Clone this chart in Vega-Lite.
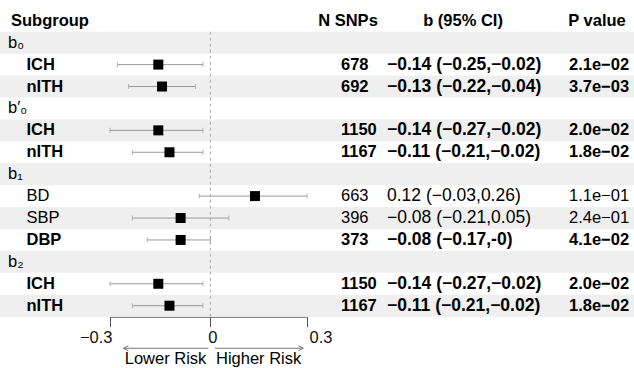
{
  "$schema": "https://vega.github.io/schema/vega-lite/v6.json",
  "width": 634,
  "height": 350.7,
  "padding": {"left": 0, "top": 9.8, "right": 0, "bottom": 8},
  "autosize": {"type": "none"},
  "config": {"view": {"stroke": null}, "font": "Liberation Sans", "text": {"font": "Liberation Sans", "fontSize": 16.5, "baseline": "middle", "color": "#000000"}},
  "datasets": {
    "rows": [
      {"row": 0, "kind": "header", "label": "Subgroup", "n": "N SNPs", "b": "b (95% CI)", "p": "P value", "bold": true},
      {"row": 1, "kind": "group", "label": "b₀", "bold": false},
      {"row": 2, "kind": "item", "label": "ICH", "n": 678, "b": "−0.14 (−0.25,−0.02)", "p": "2.1e−02", "est": -0.14, "lo": -0.25, "hi": -0.02, "bold": true},
      {"row": 3, "kind": "item", "label": "nITH", "n": 692, "b": "−0.13 (−0.22,−0.04)", "p": "3.7e−03", "est": -0.13, "lo": -0.22, "hi": -0.04, "bold": true},
      {"row": 4, "kind": "group", "label": "b′₀", "bold": false},
      {"row": 5, "kind": "item", "label": "ICH", "n": 1150, "b": "−0.14 (−0.27,−0.02)", "p": "2.0e−02", "est": -0.14, "lo": -0.27, "hi": -0.02, "bold": true},
      {"row": 6, "kind": "item", "label": "nITH", "n": 1167, "b": "−0.11 (−0.21,−0.02)", "p": "1.8e−02", "est": -0.11, "lo": -0.21, "hi": -0.02, "bold": true},
      {"row": 7, "kind": "group", "label": "b₁", "bold": false},
      {"row": 8, "kind": "item", "label": "BD", "n": 663, "b": "0.12 (−0.03,0.26)", "p": "1.1e−01", "est": 0.12, "lo": -0.03, "hi": 0.26, "bold": false},
      {"row": 9, "kind": "item", "label": "SBP", "n": 396, "b": "−0.08 (−0.21,0.05)", "p": "2.4e−01", "est": -0.08, "lo": -0.21, "hi": 0.05, "bold": false},
      {"row": 10, "kind": "item", "label": "DBP", "n": 373, "b": "−0.08 (−0.17,-0)", "p": "4.1e−02", "est": -0.08, "lo": -0.17, "hi": 0.0, "bold": true},
      {"row": 11, "kind": "group", "label": "b₂", "bold": false},
      {"row": 12, "kind": "item", "label": "ICH", "n": 1150, "b": "−0.14 (−0.27,−0.02)", "p": "2.0e−02", "est": -0.14, "lo": -0.27, "hi": -0.02, "bold": true},
      {"row": 13, "kind": "item", "label": "nITH", "n": 1167, "b": "−0.11 (−0.21,−0.02)", "p": "1.8e−02", "est": -0.11, "lo": -0.21, "hi": -0.02, "bold": true}
    ],
    "arrows": [
      {"row": 15, "dir": "left", "side": "Lower Risk", "tail": -0.0055, "tip": -0.234},
      {"row": 15, "dir": "right", "side": "Higher Risk", "tail": 0.0125, "tip": 0.25}
    ]
  },
  "data": {"name": "rows"},
  "encoding": {
    "y": {"field": "row", "type": "ordinal", "axis": null,
          "scale": {"type": "band", "domain": [0,1,2,3,4,5,6,7,8,9,10,11,12,13,14,15], "paddingInner": 0, "paddingOuter": 0}}
  },
  "layer": [
    {
      "transform": [{"filter": "datum.row % 2 == 1"}],
      "mark": {"type": "rect", "color": "#EFEFEF"}
    },
    {
      "transform": [{"filter": "datum.kind == 'header'"}],
      "mark": {"type": "text", "align": "left", "fontWeight": "bold"},
      "encoding": {"x": {"value": 11}, "text": {"field": "label"}}
    },
    {
      "transform": [{"filter": "datum.kind == 'group'"}],
      "mark": {"type": "text", "align": "left"},
      "encoding": {"x": {"value": 8}, "text": {"field": "label"}}
    },
    {
      "transform": [{"filter": "datum.kind == 'item' && datum.bold"}],
      "mark": {"type": "text", "align": "left", "fontWeight": "bold"},
      "encoding": {"x": {"value": 26.5}, "text": {"field": "label"}}
    },
    {
      "transform": [{"filter": "datum.kind == 'item' && !datum.bold"}],
      "mark": {"type": "text", "align": "left"},
      "encoding": {"x": {"value": 26.5}, "text": {"field": "label"}}
    },
    {
      "transform": [{"filter": "datum.kind == 'header'"}],
      "mark": {"type": "text", "align": "center", "fontWeight": "bold"},
      "encoding": {"x": {"value": 348}, "text": {"field": "n"}}
    },
    {
      "transform": [{"filter": "datum.kind == 'header'"}],
      "mark": {"type": "text", "align": "center", "fontWeight": "bold"},
      "encoding": {"x": {"value": 463}, "text": {"field": "b"}}
    },
    {
      "transform": [{"filter": "datum.kind == 'header'"}],
      "mark": {"type": "text", "align": "center", "fontWeight": "bold"},
      "encoding": {"x": {"value": 597}, "text": {"field": "p"}}
    },
    {
      "transform": [{"filter": "datum.kind == 'item' && datum.bold"}],
      "mark": {"type": "text", "align": "left", "fontWeight": "bold"},
      "encoding": {"x": {"value": 341}, "text": {"field": "n"}}
    },
    {
      "transform": [{"filter": "datum.kind == 'item' && !datum.bold"}],
      "mark": {"type": "text", "align": "left"},
      "encoding": {"x": {"value": 341}, "text": {"field": "n"}}
    },
    {
      "transform": [{"filter": "datum.kind == 'item' && datum.bold"}],
      "mark": {"type": "text", "align": "left", "fontWeight": "bold", "fontSize": 17.5},
      "encoding": {"x": {"value": 387}, "text": {"field": "b"}}
    },
    {
      "transform": [{"filter": "datum.kind == 'item' && !datum.bold"}],
      "mark": {"type": "text", "align": "left", "fontSize": 17.5},
      "encoding": {"x": {"value": 387}, "text": {"field": "b"}}
    },
    {
      "transform": [{"filter": "datum.kind == 'item' && datum.bold"}],
      "mark": {"type": "text", "align": "left", "fontWeight": "bold"},
      "encoding": {"x": {"value": 569}, "text": {"field": "p"}}
    },
    {
      "transform": [{"filter": "datum.kind == 'item' && !datum.bold"}],
      "mark": {"type": "text", "align": "left"},
      "encoding": {"x": {"value": 569}, "text": {"field": "p"}}
    },
    {
      "data": {"values": [{"zero": 0}]},
      "mark": {"type": "rule", "color": "#AAAAAA", "strokeDash": [3, 3], "strokeWidth": 1},
      "encoding": {
        "x": {"field": "zero", "type": "quantitative",
              "scale": {"domain": [-0.27, 0.26], "range": [110, 307], "nice": false, "zero": false},
              "axis": {
                "values": [-0.27, 0, 0.26],
                "labelExpr": "datum.value < -0.1 ? '−0.3' : (datum.value > 0.1 ? '0.3' : '0')",
                "labelAlign": {"condition": [{"test": "datum.value < -0.1", "value": "right"}, {"test": "datum.value > 0.1", "value": "left"}], "value": "center"},
                "labelOffset": 2,
                "offset": -43.8,
                "tickSize": 10,
                "domainColor": "#555555",
                "tickColor": "#555555",
                "labelColor": "#111111",
                "labelFontSize": 16.5,
                "labelFont": "Liberation Sans",
                "labelPadding": 3,
                "labelFlush": false,
                "labelOverlap": false,
                "grid": false,
                "title": null
              }},
        "y": {"datum": 1, "type": "ordinal", "bandPosition": 0},
        "y2": {"datum": 13, "bandPosition": 1}
      }
    },
    {
      "transform": [{"filter": "datum.kind == 'item'"}],
      "mark": {"type": "rule", "color": "#999999", "strokeWidth": 1},
      "encoding": {
        "x": {"field": "lo", "type": "quantitative"},
        "x2": {"field": "hi"}
      }
    },
    {
      "transform": [{"filter": "datum.kind == 'item'"}],
      "mark": {"type": "tick", "color": "#999999", "thickness": 1, "size": 5, "orient": "vertical"},
      "encoding": {"x": {"field": "lo", "type": "quantitative"}}
    },
    {
      "transform": [{"filter": "datum.kind == 'item'"}],
      "mark": {"type": "tick", "color": "#999999", "thickness": 1, "size": 5, "orient": "vertical"},
      "encoding": {"x": {"field": "hi", "type": "quantitative"}}
    },
    {
      "transform": [{"filter": "datum.kind == 'item'"}],
      "mark": {"type": "point", "shape": "square", "filled": true, "size": 100, "color": "#000000", "opacity": 1},
      "encoding": {"x": {"field": "est", "type": "quantitative"}}
    },
    {
      "data": {"name": "arrows"},
      "mark": {"type": "rule", "color": "#777777", "strokeWidth": 1, "yOffset": -1.3},
      "encoding": {
        "x": {"field": "tail", "type": "quantitative"},
        "x2": {"field": "tip"}
      }
    },
    {
      "data": {"name": "arrows"},
      "transform": [{"filter": "datum.dir == 'left'"}],
      "mark": {"type": "point", "shape": "M1,-0.5L0,0L1,0.5", "filled": false, "size": 100, "color": "#777777", "strokeWidth": 1, "opacity": 1, "yOffset": -1.3},
      "encoding": {"x": {"field": "tip", "type": "quantitative"}}
    },
    {
      "data": {"name": "arrows"},
      "transform": [{"filter": "datum.dir == 'right'"}],
      "mark": {"type": "point", "shape": "M-1,-0.5L0,0L-1,0.5", "filled": false, "size": 100, "color": "#777777", "strokeWidth": 1, "opacity": 1, "yOffset": -1.3},
      "encoding": {"x": {"field": "tip", "type": "quantitative"}}
    },
    {
      "data": {"name": "arrows"},
      "transform": [{"filter": "datum.dir == 'left'"}],
      "mark": {"type": "text", "align": "right", "fontSize": 16.5, "dx": -2, "dy": 9.5},
      "encoding": {"x": {"field": "tail", "type": "quantitative"}, "text": {"field": "side"}}
    },
    {
      "data": {"name": "arrows"},
      "transform": [{"filter": "datum.dir == 'right'"}],
      "mark": {"type": "text", "align": "left", "fontSize": 16.5, "dx": 1, "dy": 9.5},
      "encoding": {"x": {"field": "tail", "type": "quantitative"}, "text": {"field": "side"}}
    }
  ]
}
